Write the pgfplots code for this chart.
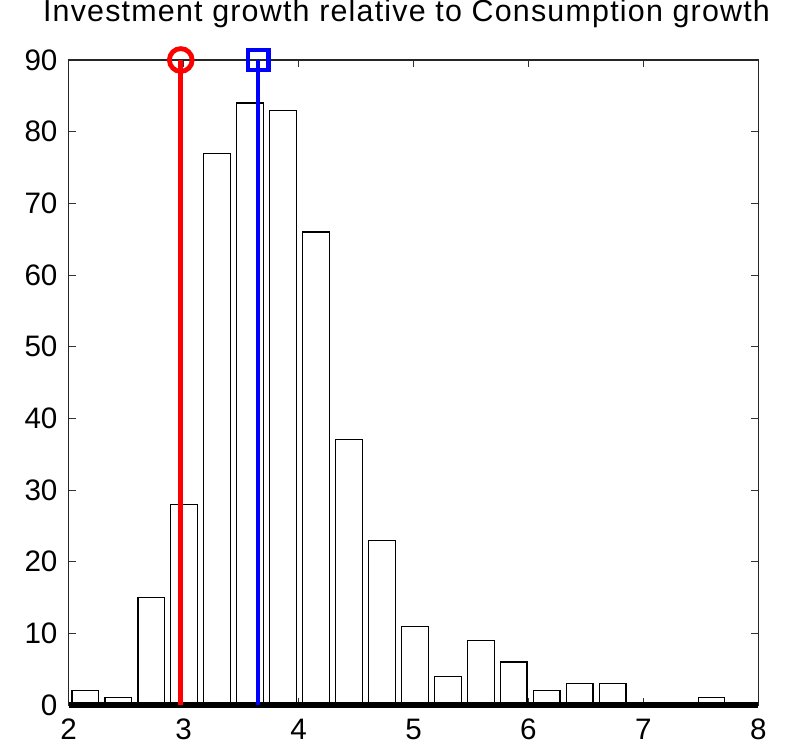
\documentclass[border=0pt]{standalone}
\usepackage{fontspec}
\setmainfont{Liberation Sans}
\newfontfamily\titlefont[LetterSpace=4]{Liberation Sans}
\usepackage{pgfplots}
\usepackage{pgfplotstable}
\pgfplotsset{compat=1.18}
\usetikzlibrary{calc}
\pgfplotstableread{
x y
2.1450 2
2.4317 1
2.7184 15
3.0051 28
3.2918 77
3.5785 84
3.8652 83
4.1519 66
4.4386 37
4.7253 23
5.0120 11
5.2987 4
5.5854 9
5.8721 6
6.1588 2
6.4455 3
6.7322 3
7.0189 0
7.3056 0
7.5923 1
}\histdata
\begin{document}
\begin{tikzpicture}
\begin{axis}[
  name=ax,
  scale only axis,
  width=344.8pt, height=322.5pt,
  xmin=2, xmax=8, ymin=0, ymax=90,
  xtick={2,3,4,5,6,7,8},
  ytick={0,10,20,30,40,50,60,70,80,90},
  tick align=inside,
  major tick length=3.5pt,
  every tick/.style={black!80, line width=0.5pt},
  axis line style={black!85, line width=0.6pt},
  clip=false,
  /pgf/number format/assume math mode=true,
  ticklabel style={font=\fontsize{14.8}{17}\selectfont},
  yticklabel style={xshift=-2.1pt},
  xticklabel style={yshift=-3.5pt},
  title={\titlefont\fontsize{15.2}{18}\selectfont Investment growth relative to Consumption growth},
  title style={at={(0.5,1)}, anchor=base, yshift=13.5pt, xshift=-3.5pt, inner sep=0pt},
]
\addplot[ybar, bar width=0.232, fill=white, draw=black, line width=0.6pt] table[x=x, y=y] {\histdata};
\addplot[black, line width=3pt] coordinates {(2,0) (8,0)};
\addplot[red, line width=2.3pt, mark=o, mark indices={2}, mark size=5.7pt, mark options={line width=2.4pt}] coordinates {(2.975,0) (2.975,90)};
\addplot[blue, line width=2.1pt, mark=square, mark indices={2}, mark size=5.1pt, mark options={line width=2.1pt}] coordinates {(3.650,0) (3.650,90)};
\end{axis}
\pgfresetboundingbox
\path[use as bounding box] ($(ax.south west)+(-34.35pt,-22.5pt)$) rectangle ($(ax.south west)+(363.65pt,352.5pt)$);
\end{tikzpicture}
\end{document}
